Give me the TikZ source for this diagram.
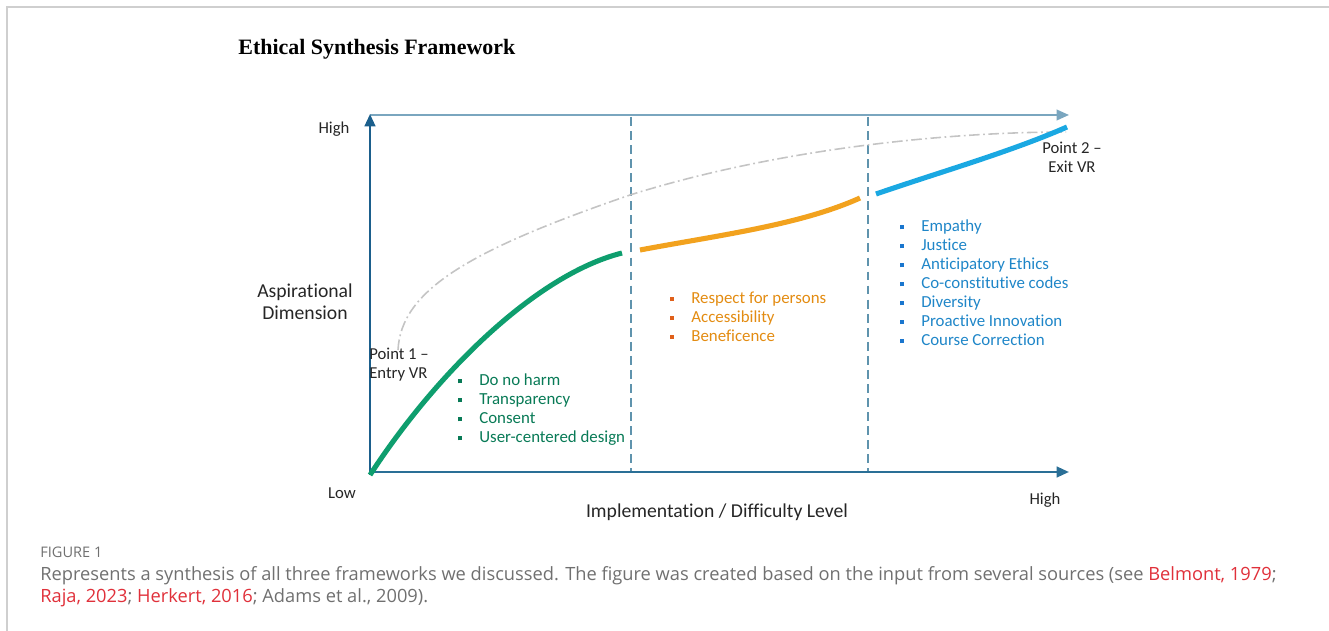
\documentclass[tikz,border=0pt]{standalone}
\usepackage{fontspec}
\setmainfont[Ligatures=NoCommon]{Carlito}
\newfontfamily\titlefont{Liberation Serif}
\newfontfamily\capfont{Open Sans}
\usetikzlibrary{arrows.meta}

\definecolor{axisdark}{HTML}{1B5F8C}
\definecolor{axismid}{HTML}{2A6F96}
\definecolor{axislight}{HTML}{7AA6BF}
\definecolor{divider}{HTML}{5F93AD}
\definecolor{greenline}{HTML}{0E9E6E}
\definecolor{greentext}{HTML}{087A56}
\definecolor{orangeline}{HTML}{F2A21E}
\definecolor{orangetext}{HTML}{E38C12}
\definecolor{orangedot}{HTML}{E0601A}
\definecolor{blueline}{HTML}{1AA8E2}
\definecolor{bluetext}{HTML}{1F86C8}
\definecolor{bluedot}{HTML}{1A76CE}
\definecolor{ideal}{HTML}{C4C4C4}
\definecolor{capgray}{HTML}{707070}
\definecolor{capred}{HTML}{E0303A}
\definecolor{frame}{HTML}{CFCFCF}

% square bullet for the lists
\newcommand{\sqb}[1]{\makebox[0.42cm][l]{\color{#1}\rule[0.25ex]{0.08cm}{0.08cm}}}

\begin{document}
\begin{tikzpicture}[
x=0.02cm, y=-0.02cm,
lbl/.style={inner sep=0pt, text=black!85, font=\fontsize{9.5}{11}\selectfont},
axtitle/.style={inner sep=0pt, align=center, text=black!85, font=\fontsize{11.2}{12.5}\selectfont},
itemlist/.style={inner sep=0pt, align=left, anchor=west, font=\fontsize{9.6}{10.8}\selectfont},
curve/.style={line width=2.9pt},
axis/.style={line width=1.4pt, -{Triangle[length=7pt,width=6pt]}},
divide/.style={divider, line width=0.8pt, dash pattern=on 5pt off 3pt}
]
\useasboundingbox (0,0) rectangle (1329,631);

% page frame
\draw[frame, line width=1pt] (1329,7) -- (7,7) -- (7,631);

% title
\node[anchor=west, inner sep=0pt, font=\titlefont\bfseries\fontsize{12.5}{15}\selectfont] (title) at (238,49) {Ethical Synthesis Framework};

% axes and frame
\coordinate (origin) at (370,475);
\coordinate (ytop) at (370,114);
\coordinate (xend) at (1069,472);
\coordinate (topleft) at (370,115);
\coordinate (topend) at (1069,115);
\draw[axis, axislight, line width=1.1pt] (topleft) -- (topend);
\draw[axis, axismid] (370,472) -- (xend);
\draw[axis, axisdark] (origin) -- (ytop);

% phase dividers
\coordinate (d1top) at (631,117);
\coordinate (d1bot) at (631,471);
\coordinate (d2top) at (868,117);
\coordinate (d2bot) at (868,471);
\draw[divide] (d1top) -- (d1bot);
\draw[divide] (d2top) -- (d2bot);

% ideal path
\coordinate (idealstart) at (398,350);
\coordinate (idealmid) at (630,195);
\coordinate (idealend) at (1066,132);
\draw[ideal, line width=0.9pt, dash pattern=on 6pt off 2pt on 1pt off 2pt]
  (idealstart) .. controls (401,290) and (470,250) .. (idealmid)
  .. controls (780,148) and (950,132) .. (idealend);

% phases
\coordinate (g0) at (370,475);
\coordinate (g1) at (622,253);
\coordinate (o0) at (640,250);
\coordinate (o1) at (860,198);
\coordinate (b0) at (876,194);
\coordinate (b1) at (1067,127);
\draw[curve, greenline] (g0) .. controls (435,375) and (535,275) .. (g1);
\draw[curve, orangeline] (o0) .. controls (720,235) and (800,225) .. (o1);
\draw[curve, blueline] (b0) .. controls (940,172) and (1010,152) .. (b1);

% axis labels
\node[lbl] (yhigh) at (334,129) {High};
\node[lbl] (ylow) at (342,493) {Low};
\node[lbl] (xhigh) at (1045,500) {High};
\node[axtitle] (ytitle) at (305,302) {Aspirational\\Dimension};
\node[axtitle] (xtitle) at (717,512) {Implementation / Difficulty Level};

% entry and exit points
\node[lbl, align=left, anchor=west, font=\fontsize{9.5}{10.8}\selectfont] (entry) at (369,364.5) {Point 1 --\\Entry VR};
\node[lbl, align=center, font=\fontsize{9.5}{10.8}\selectfont] (exit) at (1072,157.5) {Point 2 --\\Exit VR};

% principles per phase
\node[itemlist, text=greentext] (greenlist) at (458,409.5)
{\sqb{greentext}Do no harm\\
\sqb{greentext}Transparency\\
\sqb{greentext}Consent\\
\sqb{greentext}User-centered design};
\node[itemlist, text=orangetext] (orangelist) at (670,316.5)
{\sqb{orangedot}Respect for persons\\
\sqb{orangedot}Accessibility\\
\sqb{orangedot}Beneficence};
\node[itemlist, text=bluetext] (bluelist) at (900,282.5)
{\sqb{bluedot}Empathy\\
\sqb{bluedot}Justice\\
\sqb{bluedot}Anticipatory Ethics\\
\sqb{bluedot}Co-constitutive codes\\
\sqb{bluedot}Diversity\\
\sqb{bluedot}Proactive Innovation\\
\sqb{bluedot}Course Correction};

% caption
\node[anchor=west, inner sep=0pt, text=capgray, font=\capfont\fontsize{8.3}{9}\selectfont] (capnum) at (40,552) {FIGURE 1};
\node[anchor=north west, inner sep=0pt, align=left, text=capgray, font=\capfont\fontsize{10.4}{12.9}\selectfont] (captext) at (40,566)
{Represents a synthesis of all three frameworks we discussed. The figure was created based on the input from several sources (see \textcolor{capred}{Belmont, 1979};\\
\textcolor{capred}{Raja, 2023}; \textcolor{capred}{Herkert, 2016}; Adams et al., 2009).};
\end{tikzpicture}
\end{document}
